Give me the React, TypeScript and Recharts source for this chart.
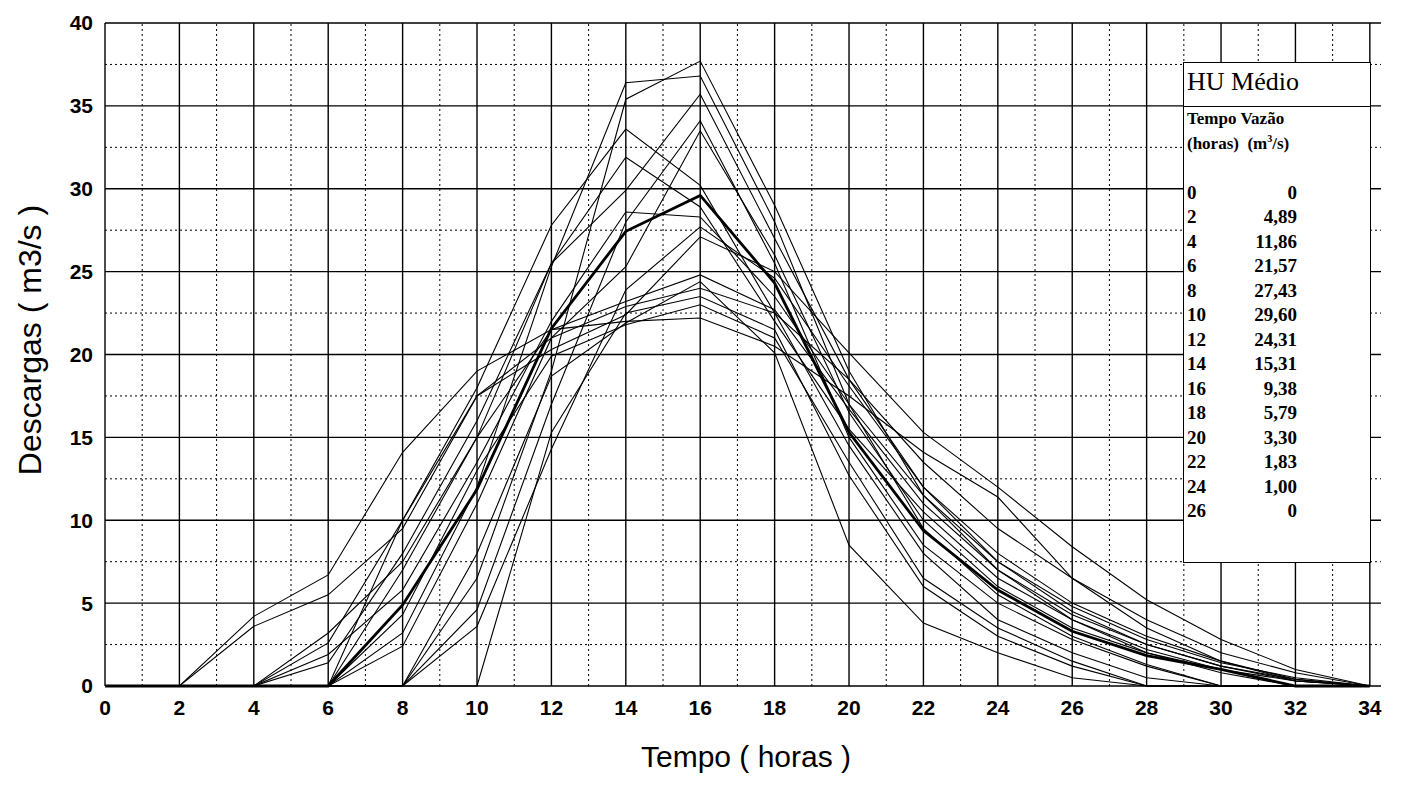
import { LineChart, Line, XAxis, YAxis, ReferenceLine } from 'recharts';

// hours on the x axis (every hydrograph is sampled every 2 h)
const hours = [0, 2, 4, 6, 8, 10, 12, 14, 16, 18, 20, 22, 24, 26, 28, 30, 32, 34];

// HU Médio table (shown in the box, drawn shifted by huStart hours)
const huHoras = [0, 2, 4, 6, 8, 10, 12, 14, 16, 18, 20, 22, 24, 26];
const huVazao = [0, 4.89, 11.86, 21.57, 27.43, 29.6, 24.31, 15.31, 9.38, 5.79, 3.3, 1.83, 1.0, 0];
const huStart = 6;

// individual event hydrographs (m3/s)
const s01 = [0, 0, 4.2, 6.7, 14.1, 19.0, 21.5, 22.0, 22.2, 20.5, 17.5, 14.1, 11.4, 6.5, 3.5, 1.5, 0.3, 0];
const s02 = [0, 0, 3.6, 5.5, 9.5, 17.5, 21.0, 22.9, 24.0, 22.5, 18.5, 13.5, 9.5, 6.5, 4.0, 2.0, 0.8, 0];
const s03 = [0, 0, 0, 1.4, 8.0, 16.0, 25.5, 29.9, 35.7, 27.0, 18.5, 12.0, 7.5, 4.5, 2.5, 1.2, 0.4, 0];
const s04 = [0, 0, 0, 1.9, 5.8, 13.5, 22.0, 28.6, 28.3, 23.5, 17.0, 11.5, 7.5, 4.8, 2.8, 1.4, 0.5, 0];
const s05 = [0, 0, 0, 2.6, 10.0, 18.0, 27.8, 33.6, 30.2, 22.5, 14.5, 8.0, 4.0, 2.0, 0.5, 0, 0, 0];
const s06 = [0, 0, 0, 3.2, 7.5, 15.0, 21.5, 23.2, 24.8, 22.7, 16.7, 11.0, 7.0, 4.3, 2.5, 1.2, 0.3, 0];
const s07 = [0, 0, 0, 0, 3.2, 12.0, 25.3, 36.4, 36.8, 28.0, 17.0, 9.5, 5.5, 3.0, 1.3, 0, 0, 0];
const s08 = [0, 0, 0, 0, 2.4, 11.0, 21.0, 25.3, 33.5, 26.0, 16.5, 10.0, 6.0, 3.5, 2.0, 1.0, 0, 0];
const s09 = [0, 0, 0, 0, 7.0, 15.0, 25.5, 31.9, 28.9, 22.0, 15.5, 10.5, 6.5, 4.0, 2.2, 1.0, 0.3, 0];
const s10 = [0, 0, 0, 0, 10.0, 17.5, 20.3, 22.4, 27.1, 25.0, 20.1, 15.3, 12.0, 8.4, 5.2, 2.8, 1.0, 0];
const s11 = [0, 0, 0, 0, 4.3, 13.0, 19.9, 21.8, 23.0, 21.0, 13.5, 6.5, 3.5, 1.5, 0, 0, 0, 0];
const s12 = [0, 0, 0, 0, 0, 6.5, 19.0, 35.4, 37.7, 29.0, 19.0, 11.5, 7.0, 4.0, 2.0, 0.8, 0, 0];
const s13 = [0, 0, 0, 0, 0, 4.6, 17.0, 28.0, 34.1, 25.5, 15.0, 8.5, 5.0, 2.8, 1.2, 0, 0, 0];
const s14 = [0, 0, 0, 0, 0, 3.6, 14.3, 23.9, 27.7, 24.6, 18.1, 12.0, 8.0, 5.0, 3.0, 1.5, 0.4, 0];
const s15 = [0, 0, 0, 0, 0, 8.0, 18.7, 21.9, 24.4, 20.1, 8.5, 3.8, 2.0, 0.5, 0, 0, 0, 0];
const s16 = [0, 0, 0, 0, 0, 0, 15.3, 22.5, 23.5, 21.5, 12.7, 6.0, 3.0, 1.2, 0, 0, 0, 0];

const thinSeries = [s01, s02, s03, s04, s05, s06, s07, s08, s09, s10, s11, s12, s13, s14, s15, s16];

// axis ticks and grid
const xTicks = [0, 2, 4, 6, 8, 10, 12, 14, 16, 18, 20, 22, 24, 26, 28, 30, 32, 34];
const xMinor = [1, 3, 5, 7, 9, 11, 13, 15, 17, 19, 21, 23, 25, 27, 29, 31, 33];
const yTicks = [0, 5, 10, 15, 20, 25, 30, 35, 40];
const yMinor = [2.5, 7.5, 12.5, 17.5, 22.5, 27.5, 32.5, 37.5];

const rows = hours.map((h, i) => {
  const row: Record<string, number> = { h };
  thinSeries.forEach((s, k) => {
    row['s' + k] = s[i];
  });
  const j = huHoras.indexOf(h - huStart);
  row.mean = j >= 0 ? huVazao[j] : 0;
  return row;
});

const fmt = (v: number) => (v === 0 ? '0' : v.toFixed(2).replace('.', ','));

const SANS = '"Liberation Sans", Arial, sans-serif';
const SERIF = '"Liberation Serif", "Times New Roman", serif';

function HuBox() {
  return (
    <div
      style={{
        position: 'absolute',
        left: 1183,
        top: 62,
        width: 186,
        height: 499,
        border: '1.5px solid #000',
        background: '#fff',
        fontFamily: SERIF,
        color: '#000',
      }}
    >
      <div style={{ height: 43, borderBottom: '1.5px solid #000', fontSize: 26, lineHeight: '38px', paddingLeft: 3 }}>
        HU Médio
      </div>
      <div style={{ fontSize: 17, fontWeight: 'bold', lineHeight: '20px', paddingLeft: 3, marginTop: 2 }}>
        <div>Tempo Vazão</div>
        <div>
          (horas)&nbsp; (m<sup style={{ fontSize: 10 }}>3</sup>/s)
        </div>
      </div>
      <div style={{ marginTop: 27, fontSize: 19, fontWeight: 'bold' }}>
        {huHoras.map((h, i) => (
          <div key={h} style={{ display: 'flex', height: 24.5, lineHeight: '24.5px' }}>
            <span style={{ width: 40, paddingLeft: 3 }}>{h}</span>
            <span style={{ width: 70, textAlign: 'right' }}>{fmt(huVazao[i])}</span>
          </div>
        ))}
      </div>
    </div>
  );
}

export default function App() {
  return (
    <div
      style={{
        position: 'fixed',
        left: 0,
        top: 0,
        width: 1415,
        height: 794,
        background: '#fff',
        fontFamily: SANS,
      }}
    >
      <LineChart width={1415} height={794} data={rows} margin={{ top: 23, right: 34, bottom: 78, left: 45 }}>
        <XAxis
          dataKey="h"
          type="number"
          domain={[0, 34.3]}
          ticks={xTicks}
          axisLine={false}
          tickLine={false}
          height={30}
          tickMargin={8}
          allowDataOverflow
          tick={{ fontSize: 21, fontWeight: 'bold', fill: '#000', fontFamily: SANS }}
        />
        <YAxis
          type="number"
          domain={[0, 40]}
          ticks={yTicks}
          width={60}
          axisLine={false}
          tickLine={false}
          tickMargin={6}
          tick={{ fontSize: 21, fontWeight: 'bold', fill: '#000', fontFamily: SANS }}
        />
        {xMinor.map((x) => (
          <ReferenceLine key={'xm' + x} x={x} stroke="#000" strokeWidth={1} strokeDasharray="2 3" />
        ))}
        {yMinor.map((y) => (
          <ReferenceLine key={'ym' + y} y={y} stroke="#000" strokeWidth={1} strokeDasharray="2 3" />
        ))}
        {xTicks.map((x) => (
          <ReferenceLine key={'xj' + x} x={x} stroke="#000" strokeWidth={1.4} />
        ))}
        {yTicks.map((y) => (
          <ReferenceLine key={'yj' + y} y={y} stroke="#000" strokeWidth={1.4} />
        ))}
        {thinSeries.map((_, k) => (
          <Line
            key={k}
            type="linear"
            dataKey={'s' + k}
            stroke="#000"
            strokeWidth={1.1}
            dot={false}
            isAnimationActive={false}
          />
        ))}
        <Line type="linear" dataKey="mean" stroke="#000" strokeWidth={2.8} dot={false} isAnimationActive={false} />
      </LineChart>

      <HuBox />

      <div
        style={{
          position: 'absolute',
          left: 30,
          top: 340,
          transform: 'translate(-50%, -50%) rotate(-90deg)',
          whiteSpace: 'nowrap',
          fontSize: 32,
          color: '#000',
        }}
      >
        Descargas ( m3/s )
      </div>
      <div
        style={{
          position: 'absolute',
          left: 746,
          top: 757,
          transform: 'translate(-50%, -50%)',
          whiteSpace: 'nowrap',
          fontSize: 30,
          color: '#000',
        }}
      >
        Tempo ( horas )
      </div>
    </div>
  );
}
